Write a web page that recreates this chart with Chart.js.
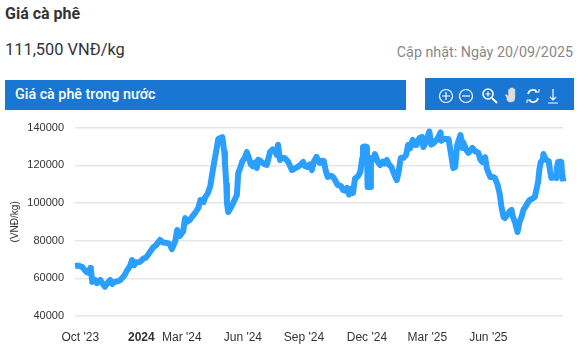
<!DOCTYPE html>
<html>
<head>
<meta charset="utf-8">
<title>Giá cà phê</title>
<script src="https://cdn.jsdelivr.net/npm/chart.js@4"></script>
<style>
    html, body { margin: 0; padding: 0; background: #fff; }
    body { width: 583px; height: 359px; position: relative; overflow: hidden; font-family: Roboto, sans-serif; }
    .abs { position: absolute; white-space: nowrap; }
    #title { left: 5px; top: 4px; font-size: 16px; line-height: 19px; font-weight: 700; color: #333; }
    #price { left: 5px; top: 40px; font-size: 16.4px; line-height: 19px; color: #333; }
    #updated { right: 10px; top: 44px; font-size: 14.3px; line-height: 17px; color: #888; }
    #barLeft { left: 5px; top: 80px; width: 401px; height: 30px; background: #1976d2; color: #fff; font-size: 14.3px; font-weight: 500; line-height: 29px; text-indent: 10px; }
    #barRight { left: 425px; top: 78px; width: 149px; height: 32px; background: #1976d2; }
    #barRight svg { position: absolute; left: 0; top: 0; }
    #chartBox { left: 0; top: 115px; }
</style>
</head>
<body>
<div class="abs" id="title">Giá cà phê</div>
<div class="abs" id="price">111,500 VNĐ/kg</div>
<div class="abs" id="updated">Cập nhật: Ngày 20/09/2025</div>
<div class="abs" id="barLeft">Giá cà phê trong nước</div>
<div class="abs" id="barRight">
    <svg width="149" height="32" fill="none" stroke="#fff" stroke-width="1.2">
        <circle cx="21" cy="18" r="6.5"/><path d="M17 18h8M21 14v8"/>
        <circle cx="41" cy="18" r="6.5"/><path d="M37 18h8"/>
        <circle cx="63" cy="16" r="5" stroke-width="1.6"/><path d="M60.5 16h5M63 13.5v5" /><path d="M67 20l5 5" stroke-width="2"/>
        <path d="M82 20l-1.5-3 1 -.5 2 2v-7h1.6v5v-6.500h1.600v6.500v-6.500h1.600v6.500v-5.500h1.600v9q0 4-4 4h-1q-2 0-3-2z" fill="#ddd" stroke="#ddd" stroke-width=".5"/>
        <path d="M103 16a5 5 0 0 1 9-2M113 20a5 5 0 0 1-9 2" stroke-width="1.6"/><path d="M110 14h4v-3M106 22h-4v3" stroke-width="1"/>
        <path d="M128 11v11M125 19l3 3 3-3M123 25h10"/>
    </svg>
</div>
<div class="abs" id="chartBox"><canvas id="coffeeChart" width="583" height="244"></canvas></div>

<script>
// days since 22 Sep 2023
const sampleDays = [
    0, 5, 11, 17, 21, 23, 24, 26, 30, 33, 38, 42, 45, 50, 53, 56, 60, 65, 68, 72,
    75, 78, 83, 86, 89, 92, 98, 103, 107, 113, 118, 122, 128, 133, 139, 143, 146, 151, 154, 158,
    161, 163, 165, 166, 169, 173, 176, 181, 186, 189, 194, 196, 200, 204, 207, 210, 213, 216, 219, 222,
    225, 226, 228, 229, 231, 234, 237, 241, 244, 246, 249, 252, 256, 259, 262, 265, 268, 271, 274, 276,
    279, 283, 286, 289, 294, 298, 301, 304, 306, 309, 312, 316, 321, 327, 332, 335, 339, 344, 347, 350,
    354, 357, 360, 364, 367, 369, 372, 375, 378, 381, 386, 389, 393, 396, 401, 404, 407, 410, 413, 416,
    419, 422, 426, 430, 433, 434, 437, 440, 441, 445, 446, 449, 452, 457, 460, 464, 467, 470, 473, 477,
    482, 485, 488, 491, 495, 499, 502, 505, 509, 512, 515, 519, 523, 525, 529, 534, 537, 541, 546, 551,
    552, 555, 560, 563, 567, 570, 573, 576, 579, 581, 584, 585, 590, 593, 596, 599, 603, 608, 611, 614,
    618, 621, 626, 630, 633, 637, 640, 643, 646, 648, 652, 655, 658, 660, 663, 667, 670, 673, 676, 679,
    682, 685, 690, 693, 696, 698, 700, 702, 705, 706, 709, 712, 714, 716, 718, 722, 725, 726, 728, 731,
    733, 734, 736
];
const coffeePrices = [
    66600, 66800, 66000, 63400, 62800, 65500, 64500, 58100, 59100, 57500, 59100, 57000, 55500, 58000, 59100, 57000, 58100, 58500, 59100, 60500,
    61800, 64000, 66600, 69700, 67000, 68500, 68700, 70500, 71000, 74000, 76500, 77500, 80400, 79000, 78800, 78000, 75500, 79500, 85700, 82500,
    84000, 85000, 90000, 92000, 90000, 91000, 92500, 94700, 97500, 101600, 100550, 103000, 105000, 109000, 115950, 122000, 128000, 134000, 134500, 135000,
    127000, 121250, 110000, 100000, 95250, 97000, 99000, 102000, 104250, 115950, 118500, 122000, 124000, 127000, 124000, 120500, 119500, 121500, 118600, 123000,
    122500, 121250, 120500, 120200, 127100, 128500, 128150, 125500, 131000, 122850, 124000, 123900, 122000, 117500, 118500, 119100, 120000, 121800, 119500, 119100,
    120500, 117500, 122000, 124500, 122000, 121250, 122500, 122300, 117000, 113800, 114500, 113800, 111500, 109600, 109000, 106900, 106500, 108000, 104500, 107500,
    105300, 113000, 114000, 116500, 124000, 129750, 130000, 129750, 108500, 108500, 123900, 123000, 126000, 121500, 120200, 122000, 121000, 122850, 120500, 119100,
    114500, 112200, 117000, 123900, 124000, 125500, 130800, 129000, 133500, 130800, 130800, 134500, 135100, 129750, 132400, 138000, 131000, 132000, 134000, 137500,
    133000, 134000, 134000, 134000, 125500, 118600, 119100, 130800, 134000, 136100, 129200, 132400, 128000, 126600, 128000, 129200, 127500, 126600, 123000, 121800,
    124400, 118000, 113800, 113800, 113300, 109600, 105000, 97400, 92500, 92050, 94000, 95500, 96300, 92600, 90000, 84600, 90000, 92600, 96500, 98000,
    100000, 101500, 102500, 103200, 108000, 111200, 118000, 121800, 123000, 126000, 123500, 122500, 122300, 117000, 113300, 114000, 113300, 118000, 121800, 122000,
    121800, 116000, 111500
];
const xTickDays = [8, 100, 161, 253, 345, 440, 531, 623];
const xTickLabels = ["Oct '23", "2024", "Mar '24", "Jun '24", "Sep '24", "Dec '24", "Mar '25", "Jun '25"];
const yTicks = [40000, 60000, 80000, 100000, 120000, 140000];

const ctx = document.getElementById("coffeeChart").getContext("2d");

new Chart(ctx, {
    type: "line",
    data: {
        datasets: [{
            data: sampleDays.map((day, i) => ({ x: day, y: coffeePrices[i] })),
            borderColor: "#2b9fff",
            borderWidth: 6,
            borderJoinStyle: "round",
            pointRadius: 0,
            tension: 0,
            clip: false
        }]
    },
    options: {
        responsive: false,
        animation: false,
        plugins: { legend: { display: false }, tooltip: { enabled: false } },
        layout: { padding: { top: 12.7, right: 20, left: 0, bottom: 0 } },
        scales: {
            x: {
                type: "linear",
                min: 0,
                max: 735.5,
                afterBuildTicks: (scale) => { scale.ticks = xTickDays.map(value => ({ value })); },
                afterFit: (scale) => {
                    scale.height = 43;
                    scale.paddingLeft = 0;
                    scale.paddingRight = 0;
                },
                grid: { display: false },
                border: { display: false },
                ticks: {
                    autoSkip: false,
                    maxRotation: 0,
                    padding: 6,
                    color: "#333",
                    font: (c) => ({ family: "Liberation Sans", size: 12, weight: xTickLabels[c.index] === "2024" ? "bold" : "normal" }),
                    callback: (value, index) => xTickLabels[index]
                }
            },
            y: {
                min: 40000,
                max: 140000,
                afterBuildTicks: (scale) => { scale.ticks = yTicks.map(value => ({ value })); },
                afterFit: (scale) => {
                    scale.width = 75;
                    scale.paddingTop = 0;
                    scale.paddingBottom = 0;
                },
                grid: { color: "#e6e6e6", lineWidth: 1.5, drawTicks: false },
                border: { display: false },
                title: {
                    display: true,
                    text: "(VNĐ/kg)",
                    color: "#333",
                    font: { family: "Liberation Sans", size: 10 },
                    padding: { top: 9, bottom: 0 }
                },
                ticks: {
                    padding: 11,
                    color: "#333",
                    font: { family: "Liberation Sans", size: 11 },
                    callback: (value) => String(value)
                }
            }
        }
    }
});
</script>
</body>
</html>
